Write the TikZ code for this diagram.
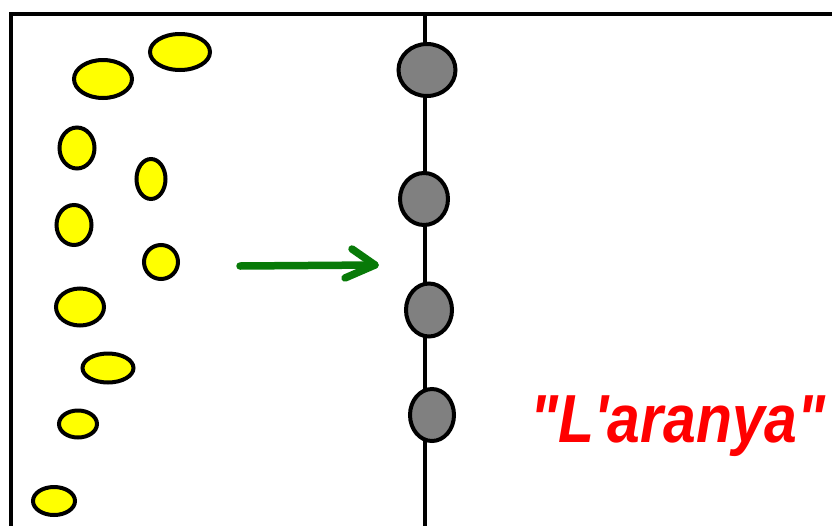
\documentclass[tikz,border=0pt]{standalone}
\usepackage{fontspec}
\setmainfont{Liberation Sans}
\usetikzlibrary{shapes.geometric}
\definecolor{eggyellow}{RGB}{255,255,0}
\definecolor{beadgray}{RGB}{128,128,128}
\definecolor{arrowgreen}{RGB}{8,122,8}
\definecolor{labelred}{RGB}{255,0,0}
\begin{document}
\begin{tikzpicture}[x=1pt,y=-1pt,
  egg/.style={ellipse,draw=black,line width=4pt,fill=eggyellow,inner sep=0pt},
  bead/.style={ellipse,draw=black,line width=4pt,fill=beadgray,inner sep=0pt},
  frame/.style={line width=4.6pt,black},
  thread/.style={line width=4.2pt,black},
  move/.style={arrowgreen,line width=7.5pt,line cap=round}]
\useasboundingbox (0,0) rectangle (832,525);
% frame
\coordinate (ftl) at (11,14);
\coordinate (ftr) at (834,14);
\coordinate (fbl) at (11,527);
\draw[frame] (ftr) -- (ftl) -- (fbl);
% thread
\coordinate (ttop) at (425,14);
\coordinate (tbot) at (425,527);
\draw[thread] (ttop) -- (tbot);
% yellow eggs
\node[egg,minimum width=60pt,minimum height=36pt] (e1) at (180,52) {};
\node[egg,minimum width=58pt,minimum height=38pt] (e2) at (103,79) {};
\node[egg,minimum width=35pt,minimum height=41pt] (e3) at (77,148) {};
\node[egg,minimum width=29pt,minimum height=40pt] (e4) at (151,179) {};
\node[egg,minimum width=35pt,minimum height=40pt] (e5) at (74,225) {};
\node[egg,minimum width=34pt,minimum height=34pt] (e6) at (161,262) {};
\node[egg,minimum width=48pt,minimum height=37pt] (e7) at (80,307) {};
\node[egg,minimum width=51pt,minimum height=29pt] (e8) at (108,368) {};
\node[egg,minimum width=38pt,minimum height=27pt] (e9) at (78,424) {};
\node[egg,minimum width=42pt,minimum height=28pt] (e10) at (54,501) {};
% gray beads
\node[bead,minimum width=57pt,minimum height=52pt] (b1) at (427,70) {};
\node[bead,minimum width=48pt,minimum height=52pt] (b2) at (424,199) {};
\node[bead,minimum width=46pt,minimum height=53pt] (b3) at (429,310) {};
\node[bead,minimum width=44pt,minimum height=52pt] (b4) at (432,415) {};
% arrow
\coordinate (as) at (240,266);
\coordinate (at) at (375,265);
\coordinate (au) at (352,249);
\coordinate (ad) at (345,278);
\draw[move] (as) -- (at);
\draw[move,line join=round] (au) -- (at) -- (ad);
% label
\node[anchor=base west,inner sep=0pt,text=labelred,xscale=0.865] (lbl) at (530,442)
  {\fontsize{68}{68}\selectfont\bfseries\itshape \textquotedbl L\textquotesingle aranya\textquotedbl};
\end{tikzpicture}
\end{document}
